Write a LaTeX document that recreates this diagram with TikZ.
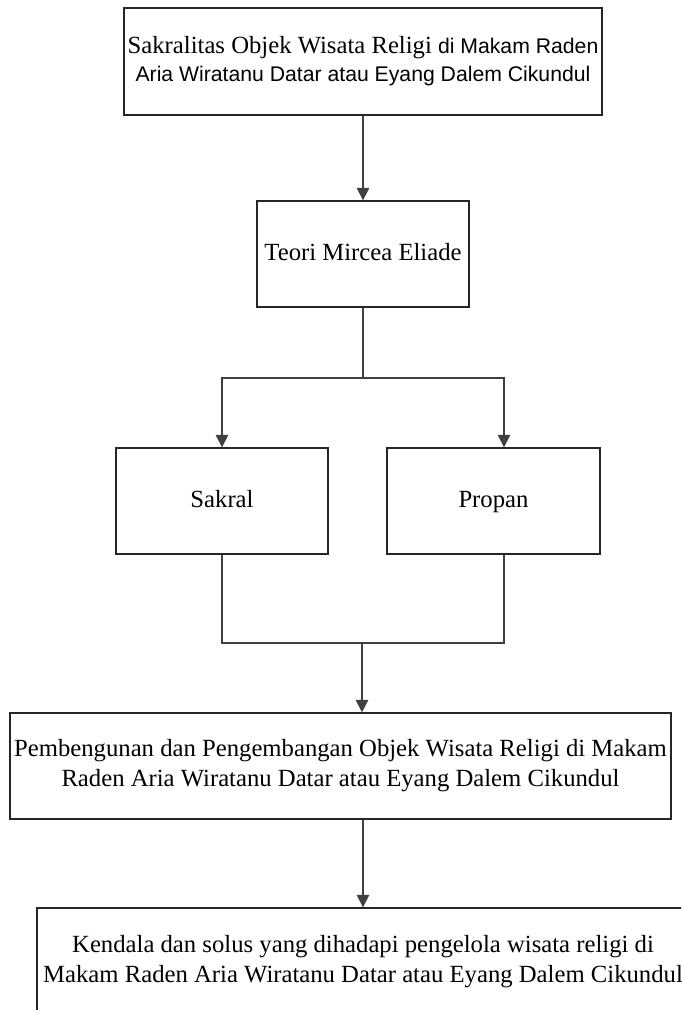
\documentclass[tikz,border=0pt]{standalone}
\usepackage{fontspec}
\setmainfont{Liberation Serif}
\newfontfamily\arialf{Liberation Sans}
\usetikzlibrary{arrows.meta}
\begin{document}
\begin{tikzpicture}[x=1pt,y=-1pt,
  box/.style={draw=black!85, line width=1.4pt, fill=white, inner sep=0pt, align=center,
    font=\fontsize{24.7}{30}\selectfont},
  conn/.style={draw=black!75, line width=1.6pt},
  arr/.style={conn, -{Triangle[length=12.5pt,width=12.5pt]}}
]
\useasboundingbox (0,0) rectangle (681,1010);
\fill[white] (0,0) rectangle (681,1010);
\clip (0,0) rectangle (681,1010);

\node[box, minimum width=478pt, minimum height=107pt] (top) at (363,61.5)
  {Sakralitas Objek Wisata Religi {\arialf\fontsize{21.2}{27}\selectfont di Makam Raden}\\[-2pt]
   \arialf\fontsize{21.2}{27}\selectfont Aria Wiratanu Datar atau Eyang Dalem Cikundul};
\node[box, minimum width=212pt, minimum height=106pt] (teori) at (363,254) {\strut Teori Mircea Eliade};
\node[box, minimum width=212pt, minimum height=106pt] (sakral) at (222,501) {\strut Sakral};
\node[box, minimum width=213pt, minimum height=106pt] (propan) at (493.5,501) {\strut Propan};
\node[box, minimum width=661pt, minimum height=106pt] (pemb) at (340.5,766)
  {Pembengunan dan Pengembangan Objek Wisata Religi di Makam\\
   Raden Aria Wiratanu Datar atau Eyang Dalem Cikundul};
\node[box, minimum width=652pt, minimum height=107pt] (kend) at (363,961.5)
  {Kendala dan solus yang dihadapi pengelola wisata religi di\\
   Makam Raden Aria Wiratanu Datar atau Eyang Dalem Cikundul};

\coordinate (split) at (363,378);
\coordinate (join) at (362,643);
\coordinate (pn) at ([xshift=10.5pt]propan.north);
\coordinate (ps) at ([xshift=10.5pt]propan.south);

\draw[arr] (top.south) -- (teori.north);
\draw[conn] (teori.south) -- (split);
\draw[arr] (split) -| (sakral.north);
\draw[arr] (split) -| (pn);
\draw[conn] (sakral.south) |- (join) -| (ps);
\draw[arr] (join) -- (join |- pemb.north);
\draw[arr] (kend.north |- pemb.south) -- (kend.north);
\end{tikzpicture}
\end{document}
